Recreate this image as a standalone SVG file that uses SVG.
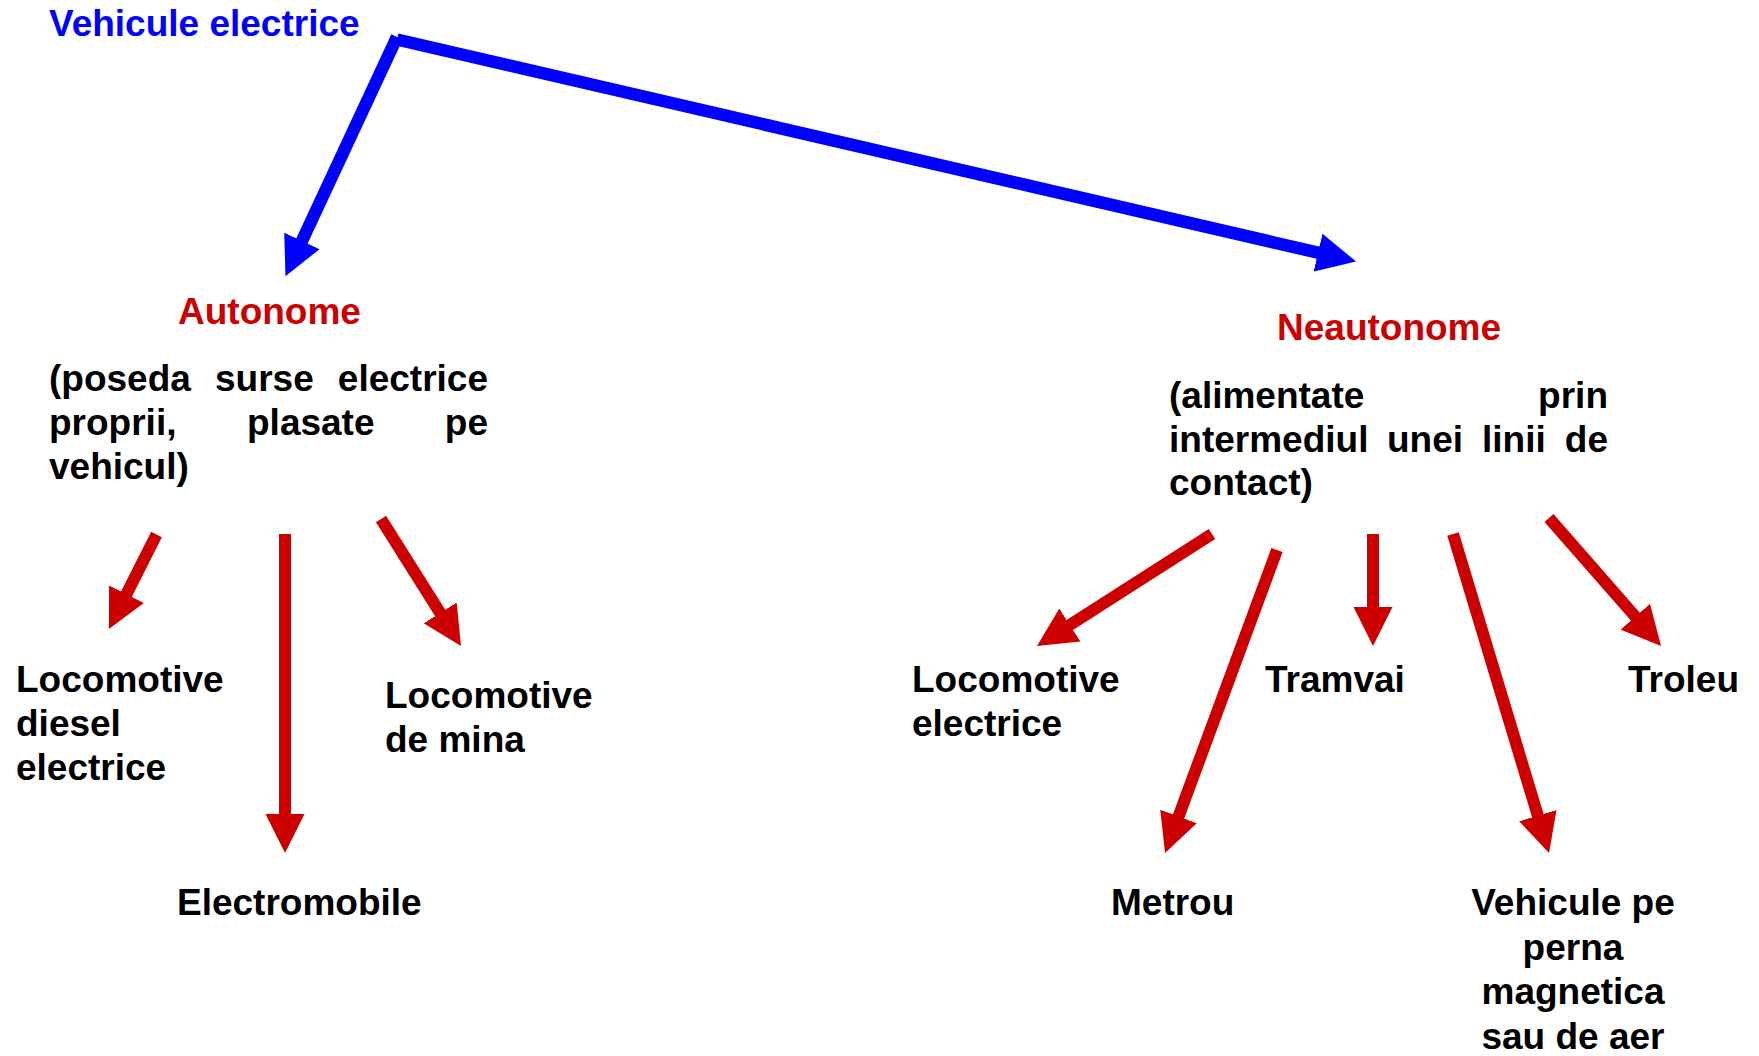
<svg xmlns="http://www.w3.org/2000/svg" width="1759" height="1056" viewBox="0 0 1759 1056">
  <style>
    text { font-family: "Liberation Sans", Arial, sans-serif; font-weight: bold; font-size: 37px; }
    .title { fill: #0000FF; }
    .cat { fill: #CC0000; }
    .lbl { fill: #000000; }
    .end { text-anchor: end; }
    .mid { text-anchor: middle; }
    .blue { stroke: #0000FF; stroke-width: 12.5; fill: none; stroke-linecap: butt; marker-end: url(#headBlue); }
    .red { stroke: #CC0000; stroke-width: 12; fill: none; stroke-linecap: butt; marker-end: url(#headRed); }
  </style>
  <defs>
    <marker id="headBlue" markerUnits="userSpaceOnUse" markerWidth="40" markerHeight="40" viewBox="0 -20 40 40" refX="1" refY="0" orient="auto">
      <path d="M0,-19.5 L39,0 L0,19.5 z" fill="#0000FF"/>
    </marker>
    <marker id="headRed" markerUnits="userSpaceOnUse" markerWidth="40" markerHeight="40" viewBox="0 -20 40 40" refX="1" refY="0" orient="auto">
      <path d="M0,-19.5 L39,0 L0,19.5 z" fill="#CC0000"/>
    </marker>
  </defs>
  <rect width="1759" height="1056" fill="#FFFFFF"/>

  <g id="connectors">
    <line class="blue" x1="397" y1="37" x2="301.5" y2="241.8"/>
    <line class="blue" x1="397" y1="39.5" x2="1319" y2="252.9"/>
    <line class="red" x1="156.5" y1="534.5" x2="126" y2="595"/>
    <line class="red" x1="285" y1="534" x2="285" y2="815"/>
    <line class="red" x1="381" y1="519" x2="440.7" y2="613.8"/>
    <line class="red" x1="1212" y1="534" x2="1069" y2="625.5"/>
    <line class="red" x1="1277" y1="550" x2="1178.2" y2="817.4"/>
    <line class="red" x1="1373" y1="534" x2="1373" y2="608"/>
    <line class="red" x1="1453" y1="534" x2="1538.1" y2="816.6"/>
    <line class="red" x1="1549" y1="518" x2="1636" y2="617.4"/>
  </g>

  <g id="root">
    <text class="title" x="49" y="36">Vehicule electrice</text>
  </g>

  <g id="autonome">
    <text class="cat" x="178" y="324">Autonome</text>
    <text class="lbl" x="49" y="391">(poseda</text>
    <text class="lbl" x="215" y="391">surse</text>
    <text class="lbl end" x="488" y="391">electrice</text>
    <text class="lbl" x="49" y="435">proprii,</text>
    <text class="lbl" x="247" y="435">plasate</text>
    <text class="lbl end" x="488" y="435">pe</text>
    <text class="lbl" x="49" y="479">vehicul)</text>
  </g>

  <g id="neautonome">
    <text class="cat" x="1277" y="340">Neautonome</text>
    <text class="lbl" x="1169" y="408">(alimentate</text>
    <text class="lbl end" x="1608" y="408">prin</text>
    <text class="lbl" x="1169" y="452">intermediul</text>
    <text class="lbl" x="1387" y="452">unei</text>
    <text class="lbl" x="1482" y="452">linii</text>
    <text class="lbl end" x="1608" y="452">de</text>
    <text class="lbl" x="1169" y="495">contact)</text>
  </g>

  <g id="locomotive-diesel">
    <text class="lbl" x="16" y="692">Locomotive</text>
    <text class="lbl" x="16" y="736">diesel</text>
    <text class="lbl" x="16" y="780">electrice</text>
  </g>

  <g id="electromobile">
    <text class="lbl" x="177" y="915">Electromobile</text>
  </g>

  <g id="locomotive-mina">
    <text class="lbl" x="385" y="708">Locomotive</text>
    <text class="lbl" x="385" y="752">de mina</text>
  </g>

  <g id="locomotive-electrice">
    <text class="lbl" x="912" y="692">Locomotive</text>
    <text class="lbl" x="912" y="736">electrice</text>
  </g>

  <g id="metrou">
    <text class="lbl" x="1111" y="915">Metrou</text>
  </g>

  <g id="tramvai">
    <text class="lbl" x="1265" y="692">Tramvai</text>
  </g>

  <g id="vehicule-perna">
    <text class="lbl mid" x="1573" y="915">Vehicule pe</text>
    <text class="lbl mid" x="1573" y="959.5">perna</text>
    <text class="lbl mid" x="1573" y="1004">magnetica</text>
    <text class="lbl mid" x="1573" y="1048.5">sau de aer</text>
  </g>

  <g id="troleu">
    <text class="lbl" x="1628" y="692">Troleu</text>
  </g>
</svg>
